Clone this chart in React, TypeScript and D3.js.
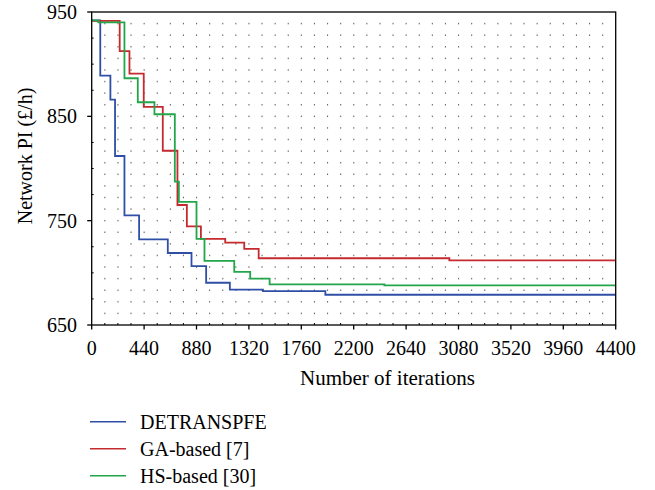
import * as React from 'react';
import * as d3 from 'd3';

const WIDTH = 655;
const HEIGHT = 490;
const M = { left: 91.7, right: 615.7, top: 12, bottom: 325 };

// step change points (iteration) and PI value held after each
const detIters = [0, 72, 157, 196, 275, 398, 639, 838, 961, 1160, 1438, 1962, 4400];
const detVals = [942, 889, 866, 812, 755, 732, 719, 706.5, 690.5, 684, 682.5, 679, 679];
const gaIters = [0, 235, 317, 437, 597, 720, 799, 917, 1121, 1281, 1402, 3003, 4400];
const gaVals = [941.5, 912.5, 891, 859, 817, 765, 744.5, 732.5, 729, 723, 714, 712, 712];
const hsIters = [0, 56, 275, 387, 527, 698, 732, 880, 947, 1197, 1331, 1494, 2458, 4400];
const hsVals = [942, 940, 886.5, 863.5, 852, 787.5, 768, 732.5, 711.5, 701, 694.5, 689, 688, 688];

const seriesNames = ['DETRANSPFE', 'GA-based [7]', 'HS-based [30]'];
const seriesColors = ['#2f4fa6', '#c42a2e', '#22a64a'];

const xTicks = [0, 440, 880, 1320, 1760, 2200, 2640, 3080, 3520, 3960, 4400];
const yTicks = [650, 750, 850, 950];

const textStyle: React.CSSProperties = { fontFamily: "'Liberation Serif', serif" };

const x = d3.scaleLinear().domain([0, 4400]).range([M.left, M.right]);
const y = d3.scaleLinear().domain([650, 950]).range([M.bottom, M.top]);

const line = d3
  .line<[number, number]>()
  .x(d => x(d[0]))
  .y(d => y(d[1]))
  .curve(d3.curveStepAfter);

export default function App() {
  const series = [
    d3.zip(detIters, detVals) as [number, number][],
    d3.zip(gaIters, gaVals) as [number, number][],
    d3.zip(hsIters, hsVals) as [number, number][],
  ];

  const gridX = d3.range(110, 4400, 110);
  const gridY = d3.range(1, 27).map(k => 650 + (k * 100) / 9);
  const minorX = d3.range(110, 4400, 110).filter(v => v % 440 !== 0);
  const minorY = d3.range(675, 950, 25).filter(v => v % 100 !== 50);

  return (
    <svg width={WIDTH} height={HEIGHT} style={{ display: 'block' }}>
      <style>{'body{margin:0}'}</style>
      <rect width={WIDTH} height={HEIGHT} fill="#fff" />

      {/* dotted grid */}
      <g fill="#6a6a6a">
        {gridX.map(gx =>
          gridY.map(gy => (
            <rect key={gx + '-' + gy} x={x(gx) - 0.5} y={y(gy) - 0.75} width={1.1} height={1.5} />
          )),
        )}
      </g>

      {/* series */}
      {series.map((s, i) => (
        <path key={i} d={line(s) ?? ''} fill="none" stroke={seriesColors[i]} strokeWidth={1.8} />
      ))}

      {/* frame */}
      <rect
        x={M.left}
        y={M.top}
        width={M.right - M.left}
        height={M.bottom - M.top}
        fill="none"
        stroke="#000"
        strokeWidth={1.3}
      />

      {/* y axis ticks */}
      {yTicks.map(t => (
        <g key={t}>
          <line x1={M.left - 4.5} x2={M.left} y1={y(t)} y2={y(t)} stroke="#000" strokeWidth={1.3} />
          <text x={77} y={y(t)} dy="0.35em" textAnchor="end" fontSize={20} style={textStyle}>
            {t}
          </text>
        </g>
      ))}
      {minorY.map(t => (
        <line key={t} x1={M.left} x2={M.left + 2} y1={y(t)} y2={y(t)} stroke="#000" strokeWidth={1} />
      ))}

      {/* x axis ticks */}
      {xTicks.map(t => (
        <g key={t}>
          <line x1={x(t)} x2={x(t)} y1={M.bottom} y2={M.bottom + 4.5} stroke="#000" strokeWidth={1.3} />
          <text x={x(t)} y={348} dy="0.35em" textAnchor="middle" fontSize={20} style={textStyle}>
            {t}
          </text>
        </g>
      ))}
      {minorX.map(t => (
        <line key={t} x1={x(t)} x2={x(t)} y1={M.bottom} y2={M.bottom - 2} stroke="#000" strokeWidth={1} />
      ))}

      {/* axis titles */}
      <text x={387.5} y={378} dy="0.35em" textAnchor="middle" fontSize={21} style={textStyle}>
        Number of iterations
      </text>
      <text
        transform={`translate(25,156) rotate(-90)`}
        dy="0.35em"
        textAnchor="middle"
        fontSize={20}
        style={textStyle}
      >
        Network PI (£/h)
      </text>

      {/* legend */}
      {seriesNames.map((name, i) => {
        const ly = 421.7 + i * 27;
        return (
          <g key={name}>
            <line x1={90} x2={126} y1={ly} y2={ly} stroke={seriesColors[i]} strokeWidth={1.5} />
            <text x={140} y={ly} dy="0.35em" fontSize={20} style={textStyle}>
              {name}
            </text>
          </g>
        );
      })}
    </svg>
  );
}
